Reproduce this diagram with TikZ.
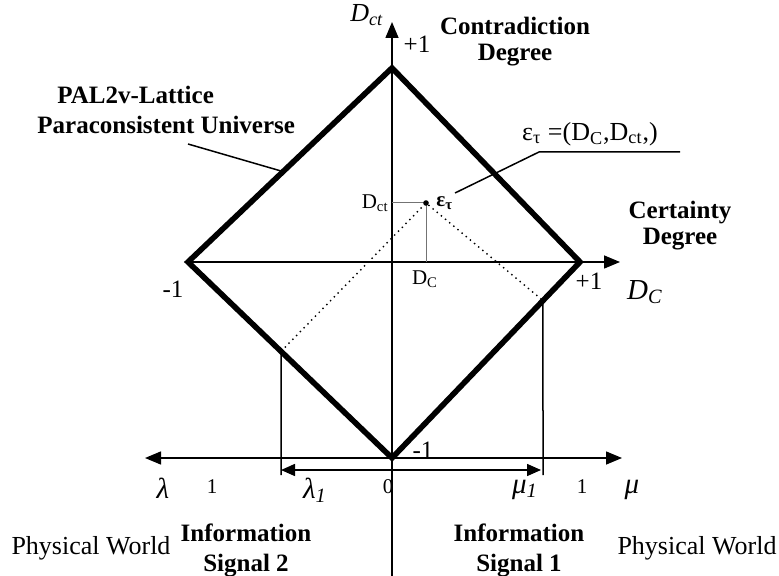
\documentclass[tikz,border=0pt]{standalone}
\usepackage{fontspec}
\setmainfont{Liberation Serif}
\usetikzlibrary{arrows.meta,positioning,calc}

\begin{document}
\begin{tikzpicture}[x=0.5pt, y=-0.5pt, >={Triangle[length=8pt,width=6.5pt]}]
    % Define styles for lines and labels
    \tikzstyle{lattice} = [line width=2.8pt, line join=miter]
    \tikzstyle{axis} = [line width=0.75pt]
    \tikzstyle{guide} = [line width=0.5pt, black!55]
    \tikzstyle{heading} = [font=\fontsize{12.5}{13}\selectfont\bfseries, align=center, inner sep=0pt]
    \tikzstyle{plain} = [font=\fontsize{13}{15}\selectfont, inner sep=0pt]
    \tikzstyle{greek} = [font=\fontsize{14.5}{16}\selectfont, inner sep=0pt]
    \tikzstyle{value} = [font=\fontsize{12.5}{14}\selectfont, inner sep=0pt]
    \tikzstyle{small} = [font=\fontsize{10.5}{12}\selectfont, inner sep=0pt]

    \useasboundingbox (0,0) rectangle (779,576);

    % Corners of the lattice and the state point
    \coordinate (top) at (392,68);
    \coordinate (left) at (188,262);
    \coordinate (right) at (580,262);
    \coordinate (bottom) at (392,458);
    \coordinate (eps) at (426,203);

    % Axis ends
    \coordinate (ctFoot) at (392,576);
    \coordinate (ctTip) at (392,22);
    \coordinate (cTip) at (620,262);
    \coordinate (lamEnd) at (145,458);
    \coordinate (muEnd) at (622,458);

    % Axes
    \draw[axis,->] (ctFoot) -- (ctTip);
    \draw[axis,->] (left) -- (cTip);
    \draw[axis,<->] (lamEnd) -- (muEnd);

    % Lattice
    \draw[lattice] (top) -- (right) -- (bottom) -- (left) -- cycle;

    % Projections of the state point
    \coordinate (ctProj) at (392,203);
    \coordinate (cProj) at (426,262);
    \draw[guide] (ctProj) -- (eps) -- (cProj);
    \fill (eps) circle (1.4pt);

    \coordinate (lamEdge) at ($(left)!0.456!(bottom)$);
    \coordinate (muEdge) at ($(right)!0.197!(bottom)$);
    \coordinate (lamFoot) at (281,475);
    \coordinate (muFoot) at (543,475);
    \draw[dotted, line width=0.7pt] (lamEdge) -- (eps) -- (muEdge);
    \draw[axis] (lamEdge) -- (lamFoot);
    \draw[axis] (muEdge) -- (muFoot);

    \coordinate (lamTip) at (281,470);
    \coordinate (muTip) at (541,470);
    \draw[axis,<->,>={Triangle[length=7pt,width=6pt]}] (lamTip) -- (muTip);

    % Leaders
    \coordinate (palLead) at (188,144);
    \coordinate (palEdge) at ($(left)!0.466!(top)$);
    \draw[axis] (palLead) -- (palEdge);
    \coordinate (epsLeadA) at (455,193);
    \coordinate (epsLeadB) at (539,152);
    \coordinate (epsLeadC) at (680,152);
    \draw[axis] (epsLeadA) -- (epsLeadB) -- (epsLeadC);

    % Headings
    \node[heading] (contra) at (515,42) {Contradiction\\Degree};
    \node[heading] (certainty) at (680,226) {Certainty\\Degree};
    \node[heading, align=left, anchor=west] (palLabel) at (37,110) {\hspace*{10pt}PAL2v-Lattice\\[2pt]Paraconsistent Universe};
    \node[heading] (signalTwo) at (246,550) {Information\\[2pt]Signal 2};
    \node[heading] (signalOne) at (519,550) {Information\\[2pt]Signal 1};
    \node[plain] (worldLeft) at (91,548) {Physical World};
    \node[plain] (worldRight) at (697,548) {Physical World};

    % Axis labels
    \node[plain] (ctName) at (367,15) {\textit{D}\textsubscript{\textit{ct}}};
    \node[greek] (cName) at (645,292) {\textit{D}\textsubscript{\textit{C}}};
    \node[value] (ctPlus) at (417,44) {+1};
    \node[value] (cPlus) at (589,281) {+1};
    \node[value] (cMinus) at (173,289) {-1};
    \node[value] (ctMinus) at (423,450) {-1};

    % State point labels
    \node[small, anchor=east] (ctValue) at (389,203) {D\textsubscript{ct}};
    \node[small] (cValue) at (425,279) {D\textsubscript{C}};
    \node[small, anchor=west] (epsName) at (436,203) {\textbf{ε\textsubscript{τ}}};
    \node[plain] (epsDef) at (590,134) {ε\textsubscript{τ} =(D\textsubscript{C},D\textsubscript{ct},)};

    % Signal axis labels
    \node[greek] (lamName) at (163,488) {\textit{λ}};
    \node[small] (lamOne) at (212,487) {1};
    \node[greek] (lamValue) at (315,490) {\textit{λ\textsubscript{1}}};
    \node[small] (zero) at (388,487) {0};
    \node[greek] (muValue) at (525,490) {\textit{μ\textsubscript{1}}};
    \node[small] (muOne) at (582,487) {1};
    \node[greek] (muName) at (632,490) {\textit{μ}};
\end{tikzpicture}
\end{document}
